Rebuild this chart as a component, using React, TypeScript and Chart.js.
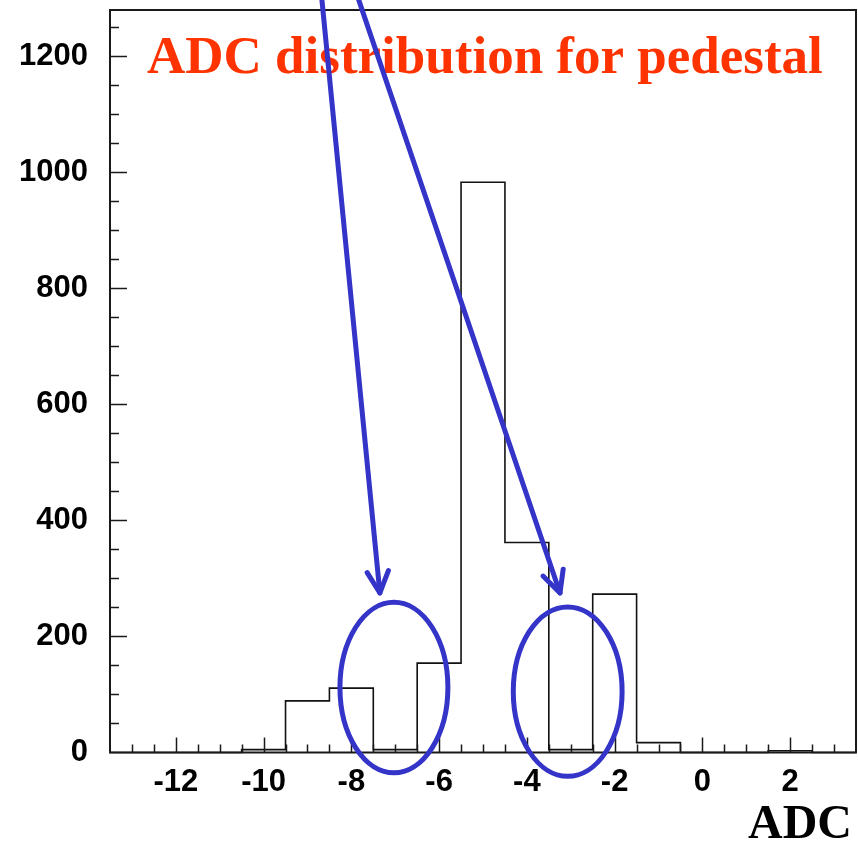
import { useEffect, useRef } from "react";
import { Chart, registerables } from "chart.js";

Chart.register(...registerables);

// ---- data ----
const BIN_CENTERS = [-13, -12, -11, -10, -9, -8, -7, -6, -5, -4, -3, -2, -1, 0, 1, 2, 3];
const COUNTS = [0, 0, 0, 5, 89, 111, 5, 154, 983, 362, 5, 273, 17, 0, 0, 3, 0];
const BIN_WIDTH = 1;
const X_MIN = -13.5;
const X_MAX = 3.5;
const Y_MIN = 0;
const Y_MAX = 1280;
const X_TICKS = [-12, -10, -8, -6, -4, -2, 0, 2];
const Y_TICKS = [0, 200, 400, 600, 800, 1000, 1200];
const X_MINOR_STEP = 0.5;
const Y_MINOR_STEP = 50;
const TITLE = "ADC distribution for pedestal";
const X_TITLE = "ADC";

// annotation marks (hand drawn arrows and circles), in data units
const ARROW_FROM_X = [-8.67, -7.83];
const ARROW_FROM_Y = [1297, 1297];
const ARROW_TO_X = [-7.35, -3.245];
const ARROW_TO_Y = [275, 275];
const ELLIPSE_CX = [-7.03, -3.07];
const ELLIPSE_CY = [112, 105];
const ELLIPSE_RX = [1.23, 1.24];
const ELLIPSE_RY = [147, 146];

const W = 858;
const H = 843;

const overlay = {
  id: "overlay",
  afterDatasetsDraw(chart: any) {
    const { ctx, chartArea: a, scales } = chart;
    const x = scales.x;
    const y = scales.y;
    ctx.save();
    // frame
    ctx.strokeStyle = "#1a1a1a";
    ctx.lineWidth = 2;
    ctx.strokeRect(a.left, a.top, a.right - a.left, a.bottom - a.top);

    // inward ticks
    ctx.lineWidth = 1.5;
    ctx.beginPath();
    const ny = Math.round((Y_MAX - Y_MIN) / Y_MINOR_STEP);
    for (let i = 1; i <= ny; i++) {
      const v = Y_MIN + i * Y_MINOR_STEP;
      if (v >= Y_MAX) continue;
      const py = Math.round(y.getPixelForValue(v)) + 0.5;
      const major = Y_TICKS.some((t) => Math.abs(t - v) < 1e-9);
      const len = major ? 17 : 9;
      ctx.moveTo(a.left, py);
      ctx.lineTo(a.left + len, py);
    }
    const nx = Math.round((X_MAX - X_MIN) / X_MINOR_STEP);
    for (let i = 1; i < nx; i++) {
      const v = X_MIN + i * X_MINOR_STEP;
      const px = Math.round(x.getPixelForValue(v)) + 0.5;
      const major = X_TICKS.some((t) => Math.abs(t - v) < 1e-9);
      const len = major ? 15 : 8;
      ctx.moveTo(px, a.bottom);
      ctx.lineTo(px, a.bottom - len);
    }
    ctx.stroke();

    // title inside the frame
    ctx.fillStyle = "#ff3300";
    ctx.font = "bold 53px 'Liberation Serif'";
    ctx.textAlign = "left";
    ctx.textBaseline = "alphabetic";
    ctx.fillText(TITLE, a.left + 37, a.top + 63);

    // x axis title
    ctx.fillStyle = "#000";
    ctx.font = "bold 48px 'Liberation Serif'";
    ctx.textAlign = "right";
    ctx.fillText(X_TITLE, a.right - 4, chart.height - 5);

    // blue hand-drawn annotations
    ctx.strokeStyle = "#3434c8";
    ctx.lineWidth = 5;
    ctx.lineCap = "round";
    ctx.lineJoin = "round";
    for (let i = 0; i < ARROW_FROM_X.length; i++) {
      const x0 = x.getPixelForValue(ARROW_FROM_X[i]);
      const y0 = y.getPixelForValue(ARROW_FROM_Y[i]);
      const x1 = x.getPixelForValue(ARROW_TO_X[i]);
      const y1 = y.getPixelForValue(ARROW_TO_Y[i]);
      const th = Math.atan2(y0 - y1, x0 - x1);
      const L = 24;
      const d = 0.46;
      ctx.beginPath();
      ctx.moveTo(x0, y0);
      ctx.lineTo(x1, y1);
      ctx.stroke();
      ctx.beginPath();
      ctx.moveTo(x1 + L * Math.cos(th + d), y1 + L * Math.sin(th + d));
      ctx.lineTo(x1, y1);
      ctx.lineTo(x1 + L * Math.cos(th - d), y1 + L * Math.sin(th - d));
      ctx.stroke();
    }
    for (let i = 0; i < ELLIPSE_CX.length; i++) {
      const cx = x.getPixelForValue(ELLIPSE_CX[i]);
      const cy = y.getPixelForValue(ELLIPSE_CY[i]);
      const rx = Math.abs(x.getPixelForValue(ELLIPSE_CX[i] + ELLIPSE_RX[i]) - cx);
      const ry = Math.abs(y.getPixelForValue(ELLIPSE_CY[i] + ELLIPSE_RY[i]) - cy);
      ctx.beginPath();
      ctx.ellipse(cx, cy, rx, ry, 0, 0, Math.PI * 2);
      ctx.stroke();
    }
    ctx.restore();
  },
};

export default function App() {
  const ref = useRef<HTMLCanvasElement | null>(null);
  useEffect(() => {
    if (!ref.current) return;
    const pts = BIN_CENTERS.map((c, i) => ({ x: c - BIN_WIDTH / 2, y: COUNTS[i] }));
    pts.push({ x: BIN_CENTERS[BIN_CENTERS.length - 1] + BIN_WIDTH / 2, y: 0 });
    const tickFont = { family: "'Liberation Sans', Arial, sans-serif", size: 31, weight: "bold" as const };
    const chart = new Chart(ref.current, {
      type: "line",
      data: {
        datasets: [
          {
            data: pts,
            stepped: "before",
            borderColor: "#111",
            borderWidth: 1.6,
            pointRadius: 0,
            fill: false,
            tension: 0,
            clip: 6,
          } as any,
        ],
      },
      options: {
        responsive: false,
        animation: false,
        devicePixelRatio: 1,
        layout: { padding: { top: 10, right: 2, left: 0, bottom: 0 } },
        plugins: { legend: { display: false }, tooltip: { enabled: false }, title: { display: false } },
        scales: {
          x: {
            type: "linear",
            min: X_MIN,
            max: X_MAX,
            grid: { display: false, drawTicks: false },
            border: { display: false },
            ticks: { font: tickFont, color: "#000", padding: 11, maxRotation: 0, autoSkip: false, callback: (v: any) => String(v) },
            afterBuildTicks: (s: any) => {
              s.ticks = X_TICKS.map((v) => ({ value: v }));
            },
            afterFit: (s: any) => {
              s.height = H - 752.5;
              s.paddingLeft = 0;
              s.paddingRight = 0;
            },
          },
          y: {
            type: "linear",
            min: Y_MIN,
            max: Y_MAX,
            grid: { display: false, drawTicks: false },
            border: { display: false },
            ticks: { font: tickFont, color: "#000", padding: 22, autoSkip: false, callback: (v: any) => String(v) },
            afterBuildTicks: (s: any) => {
              s.ticks = Y_TICKS.map((v) => ({ value: v }));
            },
            afterFit: (s: any) => {
              s.width = 110;
              s.paddingTop = 0;
              s.paddingBottom = 0;
            },
          },
        },
      },
      plugins: [overlay],
    });
    return () => chart.destroy();
  }, []);
  return (
    <div style={{ position: "fixed", left: 0, top: 0, width: W, height: H, background: "#fff" }}>
      <canvas ref={ref} width={W} height={H} style={{ width: W, height: H, display: "block" }} />
    </div>
  );
}
